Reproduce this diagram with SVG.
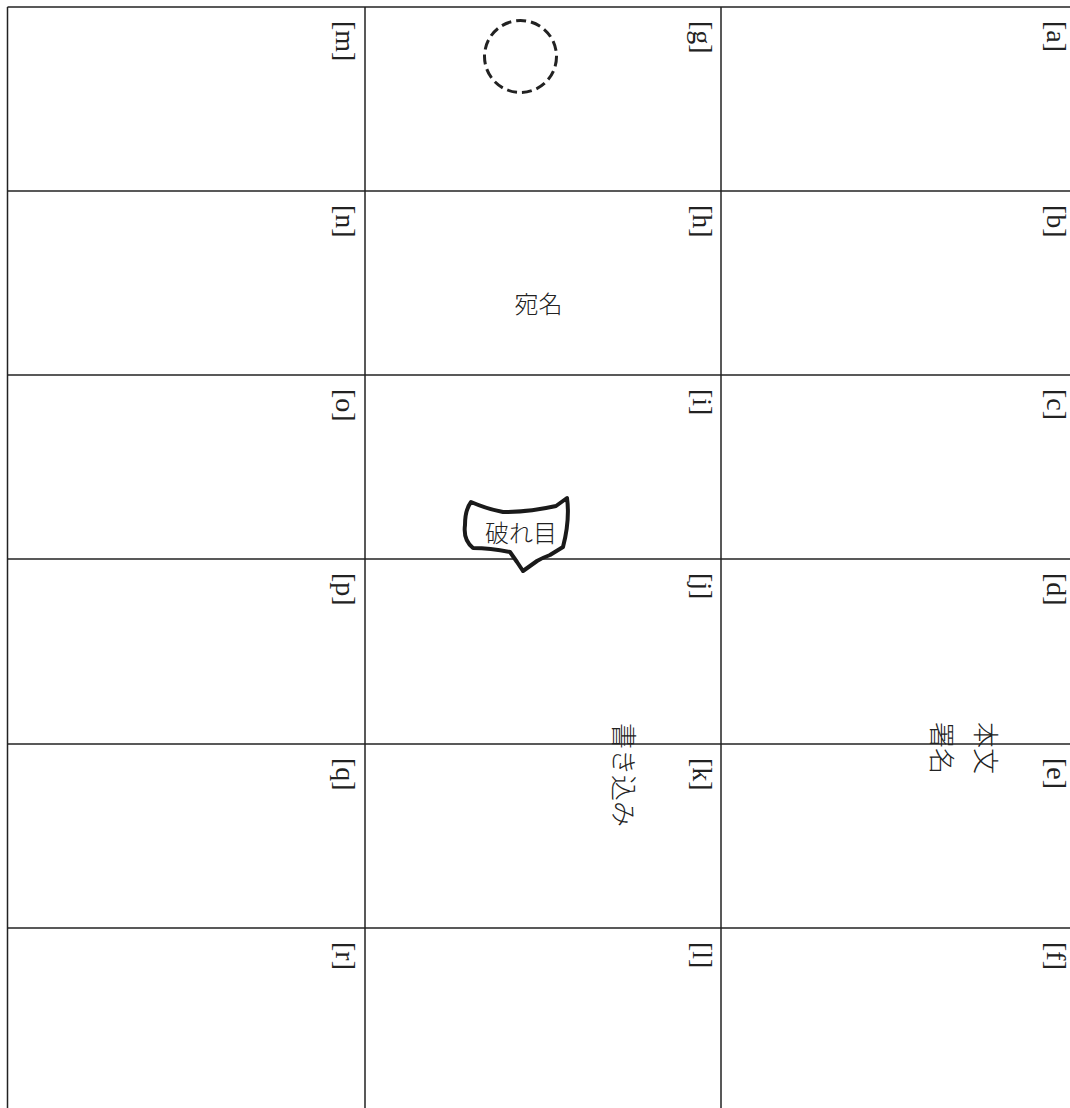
<svg xmlns="http://www.w3.org/2000/svg" width="1070" height="1108" viewBox="0 0 1070 1108">
<style>
.grid{stroke:#222;stroke-width:1.5;fill:none}
.lbl{font-family:"Liberation Serif","Times New Roman",serif;font-size:28px;fill:#222}
.jp{font-family:"Noto Sans CJK JP","Noto Sans CJK SC",sans-serif;font-size:24px;font-weight:300;fill:#222}
.jpv{font-family:"Noto Sans CJK JP","Noto Sans CJK SC",sans-serif;font-size:26px;font-weight:300;fill:#222}
</style>
<rect width="1070" height="1108" fill="#fff"/>
<g id="connectors">
<g class="grid">
<line x1="7.5" y1="7" x2="1070" y2="7"/>
<line x1="7.5" y1="191" x2="1070" y2="191"/>
<line x1="7.5" y1="375" x2="1070" y2="375"/>
<line x1="7.5" y1="559" x2="1070" y2="559"/>
<line x1="7.5" y1="744" x2="1070" y2="744"/>
<line x1="7.5" y1="928" x2="1070" y2="928"/>
<line x1="7.5" y1="7" x2="7.5" y2="1108"/>
<line x1="365" y1="7" x2="365" y2="1108"/>
<line x1="721" y1="7" x2="721" y2="1108"/>
</g>
</g>
<g id="labels">
<text class="lbl" transform="translate(1047,21) rotate(90)">[a]</text>
<text class="lbl" transform="translate(1047,205) rotate(90)">[b]</text>
<text class="lbl" transform="translate(1047,389) rotate(90)">[c]</text>
<text class="lbl" transform="translate(1047,573) rotate(90)">[d]</text>
<text class="lbl" transform="translate(1047,758) rotate(90)">[e]</text>
<text class="lbl" transform="translate(1047,942) rotate(90)">[f]</text>
<text class="lbl" transform="translate(693,21) rotate(90)">[g]</text>
<text class="lbl" transform="translate(693,205) rotate(90)">[h]</text>
<text class="lbl" transform="translate(693,389) rotate(90)">[i]</text>
<text class="lbl" transform="translate(693,573) rotate(90)">[j]</text>
<text class="lbl" transform="translate(693,758) rotate(90)">[k]</text>
<text class="lbl" transform="translate(693,942) rotate(90)">[l]</text>
<text class="lbl" transform="translate(336,21) rotate(90)">[m]</text>
<text class="lbl" transform="translate(336,205) rotate(90)">[n]</text>
<text class="lbl" transform="translate(336,389) rotate(90)">[o]</text>
<text class="lbl" transform="translate(336,573) rotate(90)">[p]</text>
<text class="lbl" transform="translate(336,758) rotate(90)">[q]</text>
<text class="lbl" transform="translate(336,942) rotate(90)">[r]</text>
</g>
<g id="stamp-circle">
<circle cx="520.5" cy="56.5" r="36" fill="none" stroke="#222" stroke-width="3" stroke-dasharray="10,5"/>
</g>
<g id="addressee">
<text class="jp" x="538.5" y="313" text-anchor="middle">宛名</text>
</g>
<g id="tear">
<path d="M471,502 Q487,509 503,512 Q530,512 556,506 L567,498 Q570,520 563,547 L550,555 Q542,558 537,561 L523,571 L517,562 L510,552 Q490,548 473,548 Q463,540 465,525 Q465,510 471,502 Z" fill="#fff" stroke="#1a1a1a" stroke-width="4" stroke-linejoin="round"/>
<text class="jp" x="521" y="542" text-anchor="middle">破れ目</text>
</g>
<g id="writing">
<text class="jpv" transform="translate(614,723) rotate(90)">書き込み</text>
</g>
<g id="body-signature">
<text class="jpv" transform="translate(976,722) rotate(90)">本文</text>
<text class="jpv" transform="translate(931.5,722) rotate(90)">署名</text>
</g>
</svg>
